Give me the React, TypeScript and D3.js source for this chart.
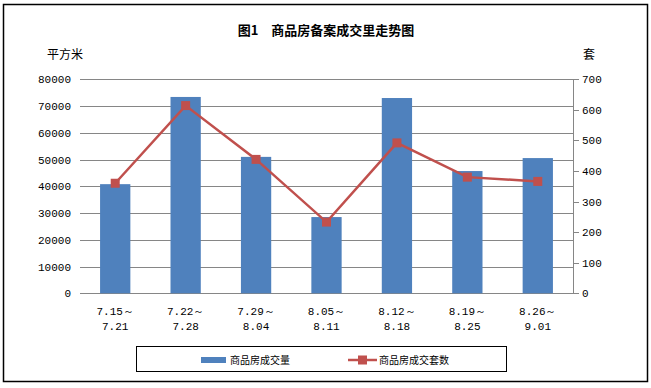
import React from "react";
import * as d3 from "d3";

const categories = ["7.15～|7.21", "7.22～|7.28", "7.29～|8.04", "8.05～|8.11", "8.12～|8.18", "8.19～|8.25", "8.26～|9.01"];
const areaValues = [40800, 73400, 51000, 28500, 73000, 45700, 50550];
const unitValues = [360, 614, 438, 233, 492, 380, 366];
const leftTicks = [0, 10000, 20000, 30000, 40000, 50000, 60000, 70000, 80000];
const rightTicks = [0, 100, 200, 300, 400, 500, 600, 700];
const seriesNames = ["商品房成交量", "商品房成交套数"];

const W = 651, H = 388;
const L = 80, R = 573, T = 79.3, B = 293.3;
const BAR = "#4F81BD", LINE = "#C0504D", GRID = "#868686";
const numFont = "'Liberation Mono', 'DejaVu Sans Mono', monospace";
const cjk = "'Noto Sans CJK SC', sans-serif";

export default function App() {
  const x = d3.scaleBand<string>().domain(categories).range([L, R]).paddingInner(0.57).paddingOuter(0.285);
  const yL = d3.scaleLinear().domain([0, 80000]).range([B, T]);
  const yR = d3.scaleLinear().domain([0, 700]).range([B, T]);
  const cx = (c: string) => (x(c) as number) + x.bandwidth() / 2;
  const line = d3.line<number>().x((_, i) => cx(categories[i])).y((d) => yR(d));

  return (
    <svg width={W} height={H} style={{ position: "absolute", left: 0, top: 0 }}>
      <rect x={0} y={0} width={W} height={H} fill="#fff" />
      <rect x={3.5} y={4.5} width={644} height={377} fill="#fff" stroke="#000" strokeWidth={1.5} />
      <text x={326} y={35} textAnchor="middle" fontFamily={cjk} fontWeight="bold" fontSize={13}>图1　商品房备案成交里走势图</text>
      <text x={65} y={59} textAnchor="middle" fontFamily={cjk} fontSize={12}>平方米</text>
      <text x={589} y={59} textAnchor="middle" fontFamily={cjk} fontSize={12}>套</text>
      {leftTicks.map((t) => (
        <g key={"l" + t}>
          <line x1={L} x2={R} y1={Math.round(yL(t)) + 0.5} y2={Math.round(yL(t)) + 0.5} stroke={GRID} strokeWidth={1} />
          <text x={71} y={yL(t) + 4} textAnchor="end" fontFamily={numFont} fontSize={11}>{t}</text>
        </g>
      ))}
      <line x1={R + 0.5} x2={R + 0.5} y1={T} y2={B + 0.5} stroke={GRID} />
      {rightTicks.map((t) => (
        <g key={"r" + t}>
          <line x1={R} x2={R + 6} y1={Math.round(yR(t)) + 0.5} y2={Math.round(yR(t)) + 0.5} stroke={GRID} />
          <text x={582} y={yR(t) + 4} fontFamily={numFont} fontSize={11}>{t}</text>
        </g>
      ))}
      {categories.map((c, i) => (
        <rect key={c} x={x(c)} y={yL(areaValues[i])} width={x.bandwidth()} height={B - yL(areaValues[i])} fill={BAR} />
      ))}
      <path d={line(unitValues) || ""} fill="none" stroke={LINE} strokeWidth={2.5} />
      {unitValues.map((v, i) => (
        <rect key={i} x={cx(categories[i]) - 4.5} y={yR(v) - 4.5} width={9} height={9} fill={LINE} />
      ))}
      {categories.map((c) => {
        const [a, b] = c.split("|");
        return (
          <g key={"t" + c} fontFamily={numFont} fontSize={11} textAnchor="middle">
            <text x={cx(c)} y={315}>{a}</text>
            <text x={cx(c)} y={330}>{b}</text>
          </g>
        );
      })}
      <rect x={136.5} y={346.5} width={370} height={25} fill="#fff" stroke="#000" strokeWidth={1} />
      <rect x={201} y={357} width={25} height={6} fill={BAR} />
      <text x={230} y={364} fontFamily={cjk} fontSize={10}>{seriesNames[0]}</text>
      <line x1={348} x2={377} y1={360} y2={360} stroke={LINE} strokeWidth={2.5} />
      <rect x={358} y={355.5} width={9} height={9} fill={LINE} />
      <text x={379} y={364} fontFamily={cjk} fontSize={10}>{seriesNames[1]}</text>
    </svg>
  );
}
